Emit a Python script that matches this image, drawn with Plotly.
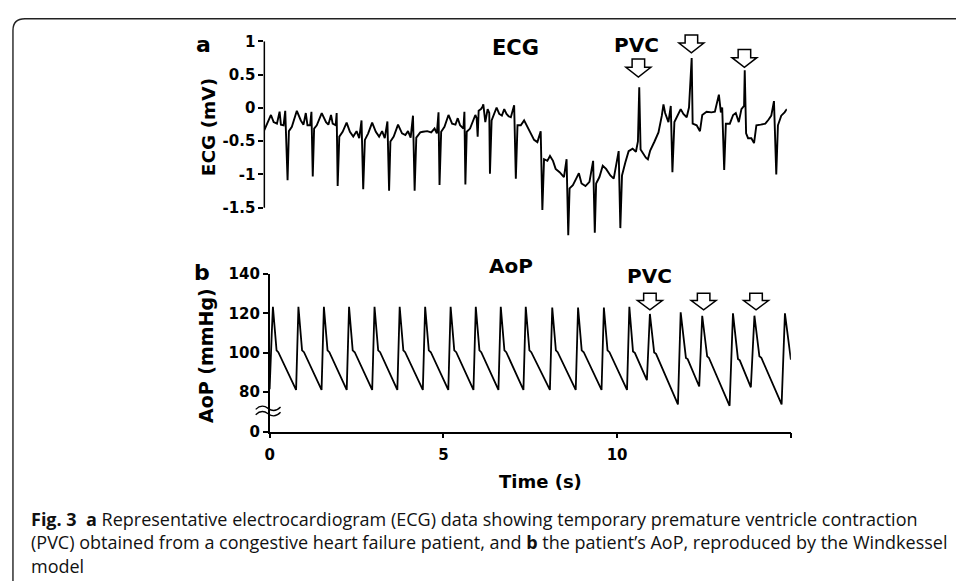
import plotly.graph_objects as go

# ---------------- data ----------------
ecg_time = [0.000, 0.190, 0.267, 0.362, 0.438, 0.476, 0.552, 0.600, 0.667, 0.705, 0.790, 0.933, 1.048, 1.124,
            1.190, 1.238, 1.314, 1.352, 1.390, 1.429, 1.505, 1.648, 1.771, 1.838, 1.914, 1.962, 2.048, 2.076,
            2.105, 2.152, 2.248, 2.362, 2.457, 2.552, 2.648, 2.724, 2.790, 2.838, 2.886, 2.981, 3.095, 3.200,
            3.295, 3.381, 3.457, 3.533, 3.581, 3.619, 3.714, 3.838, 3.952, 4.048, 4.124, 4.200, 4.267, 4.314,
            4.362, 4.476, 4.552, 4.676, 4.790, 4.886, 4.952, 5.000, 5.029, 5.076, 5.171, 5.286, 5.390, 5.486,
            5.552, 5.619, 5.714, 5.743, 5.771, 5.810, 5.905, 6.000, 6.057, 6.095, 6.124, 6.152, 6.219, 6.267,
            6.286, 6.343, 6.410, 6.457, 6.476, 6.524, 6.600, 6.667, 6.743, 6.819, 6.886, 6.952, 7.010, 7.076,
            7.171, 7.219, 7.267, 7.362, 7.457, 7.552, 7.648, 7.743, 7.838, 7.933, 7.981, 8.029, 8.124, 8.200,
            8.286, 8.362, 8.476, 8.600, 8.676, 8.724, 8.762, 8.857, 8.952, 9.029, 9.105, 9.219, 9.333, 9.438,
            9.486, 9.524, 9.619, 9.714, 9.810, 9.933, 10.029, 10.171, 10.219, 10.267, 10.362, 10.457, 10.571,
            10.667, 10.724, 10.762, 10.800, 10.857, 10.952, 11.010, 11.076, 11.200, 11.314, 11.410, 11.457,
            11.505, 11.600, 11.667, 11.714, 11.771, 11.867, 11.952, 12.029, 12.124, 12.190, 12.267, 12.295,
            12.410, 12.505, 12.571, 12.695, 12.838, 12.933, 13.048, 13.105, 13.143, 13.200, 13.248, 13.362,
            13.457, 13.533, 13.619, 13.695, 13.771, 13.790, 13.829, 13.886, 13.981, 14.057, 14.124, 14.248,
            14.381, 14.476, 14.552, 14.629, 14.695, 14.743, 14.838, 14.933, 15.000]
ecg_mv = [-0.335, -0.107, -0.214, -0.238, -0.058, -0.252, -0.262, -0.044, -1.087, -0.350, -0.286, -0.044, -0.189,
          -0.252, -0.078, -0.262, -0.262, -0.058, -1.029, -0.311, -0.262, -0.078, -0.214, -0.252, -0.107, -0.238,
          -0.262, -0.078, -1.175, -0.432, -0.359, -0.223, -0.359, -0.432, -0.350, -0.456, -0.189, -1.223, -0.481,
          -0.383, -0.223, -0.359, -0.432, -0.350, -0.456, -0.204, -1.243, -0.505, -0.432, -0.252, -0.383, -0.408,
          -0.350, -0.447, -0.117, -1.243, -0.447, -0.369, -0.359, -0.350, -0.369, -0.311, -0.383, -0.068, -1.160,
          -0.359, -0.286, -0.107, -0.238, -0.252, -0.155, -0.262, -0.311, -0.058, -1.150, -0.359, -0.311, -0.189,
          -0.107, -0.155, -0.432, -0.044, -0.019, 0.019, 0.053, -0.214, -0.019, -0.078, -0.990, -0.189, -0.092,
          0.005, -0.092, -0.117, -0.019, -0.092, -0.126, -0.141, 0.039, -1.063, -0.262, -0.262, -0.189, -0.286,
          -0.383, -0.481, -0.515, -0.350, -1.534, -0.772, -0.796, -0.723, -0.796, -0.917, -0.966, -1.039, -0.772,
          -1.913, -1.209, -1.160, -1.063, -0.981, -1.136, -1.175, -1.112, -0.796, -1.874, -1.136, -1.039, -0.869,
          -0.917, -1.015, -1.063, -0.650, -1.806, -1.015, -0.820, -0.650, -0.612, -0.660, -0.505, 0.311, -0.626,
          -0.675, -0.748, -0.772, -0.641, -0.505, -0.369, -0.117, 0.053, -0.078, -0.214, 0.029, -0.966, -0.214,
          -0.117, -0.019, -0.092, -0.141, 0.005, 0.748, -0.238, -0.262, -0.350, -0.107, -0.058, -0.068, -0.058,
          0.199, -0.068, 0.005, -0.932, -0.238, -0.238, -0.107, -0.078, -0.214, -0.019, 0.029, 0.563, -0.383,
          -0.456, -0.456, -0.529, -0.262, -0.252, -0.238, -0.175, -0.117, 0.102, -1.000, -0.262, -0.117, -0.068,
          -0.019]

aop_time = [0.000, 0.040, 0.060, 0.095, 0.200, 0.250,
            0.762, 0.829, 0.934, 0.990,
            1.495, 1.562, 1.667, 1.720,
            2.219, 2.286, 2.391, 2.450,
            2.952, 3.019, 3.124, 3.180,
            3.676, 3.743, 3.848, 3.900,
            4.409, 4.476, 4.581, 4.640,
            5.142, 5.209, 5.314, 5.370,
            5.866, 5.933, 6.038, 6.090,
            6.585, 6.652, 6.757, 6.810,
            7.304, 7.371, 7.476, 7.530,
            8.066, 8.133, 8.238, 8.290,
            8.809, 8.876, 8.981, 9.040,
            9.552, 9.619, 9.724, 9.780,
            10.285, 10.352, 10.457, 10.510,
            10.857, 10.943, 11.066, 11.120,
            11.750, 11.829, 11.980, 12.030,
            12.363, 12.449, 12.591, 12.640,
            13.237, 13.334, 13.477, 13.530,
            13.849, 13.951, 14.094, 14.150,
            14.734, 14.829, 15.000]
aop_mmhg = [81.5, 108.0, 109.0, 123.3, 101.2, 100.3,
            81.2, 123.3, 101.2, 100.3,
            81.2, 123.3, 101.2, 100.3,
            81.2, 123.3, 101.2, 100.3,
            81.2, 123.3, 101.2, 100.3,
            81.2, 123.3, 101.2, 100.3,
            81.2, 123.3, 101.2, 100.3,
            81.2, 123.3, 101.2, 100.3,
            81.2, 123.3, 101.2, 100.3,
            81.2, 123.3, 101.2, 100.3,
            81.2, 123.3, 101.2, 100.3,
            81.2, 123.0, 101.2, 100.3,
            81.2, 123.0, 101.2, 100.3,
            81.2, 123.0, 101.2, 100.3,
            81.2, 123.3, 100.7, 100.0,
            86.1, 119.7, 100.2, 99.5,
            73.8, 120.5, 97.4, 96.8,
            82.9, 118.8, 98.2, 97.5,
            73.1, 120.0, 96.9, 96.2,
            82.5, 118.8, 98.2, 97.5,
            73.8, 120.0, 96.5]

ecg_ticks = [-1.5, -1, -0.5, 0, 0.5, 1]
ecg_ticktext = ["-1.5", "-1", "-0.5", "0", "0.5", "1"]
aop_ticks = [60, 80, 100, 120, 140]
aop_ticktext = ["0", "80", "100", "120", "140"]   # broken axis: 0 drawn where 60 would be
time_ticks = [0, 5, 10, 15]
time_ticktext = ["0", "5", "10", ""]

# ---------------- layout helpers (pixels -> paper) ----------------
W, H = 956, 588
def PX(x):
    return x / W
def PY(y):
    return 1 - y / H

AX_FONT = dict(family="DejaVu Sans", size=15, color="black", weight="bold")
BOLD = "DejaVu Sans"

fig = go.Figure()
fig.add_trace(go.Scatter(x=ecg_time, y=ecg_mv, mode="lines", xaxis="x", yaxis="y",
                         line=dict(color="black", width=1.9), hoverinfo="skip"))
fig.add_trace(go.Scatter(x=aop_time, y=aop_mmhg, mode="lines", xaxis="x2", yaxis="y2",
                         line=dict(color="black", width=1.8), hoverinfo="skip"))

ecg_top, ecg_m15 = 33.3, 205.0       # pixel rows of 1 mV and -1.5 mV
ppm = (ecg_m15 - ecg_top) / 2.5
ecg_bottom = ecg_m15 + 0.5 * ppm     # room for spikes below -1.5

common_axis = dict(showgrid=False, zeroline=False, showline=True, linecolor="black", linewidth=1.5,
                   ticks="outside", ticklen=5, tickwidth=1.5, tickcolor="black", tickfont=AX_FONT)

fig.update_layout(
    width=W, height=H, margin=dict(l=0, r=0, t=0, b=0),
    paper_bgcolor="white", plot_bgcolor="white", showlegend=False,
    xaxis=dict(domain=[PX(260.7), PX(786)], range=[0, 15], visible=False, anchor="y"),
    yaxis=dict(domain=[PY(ecg_bottom), PY(ecg_top)], range=[-2.0, 1.0], anchor="x",
               tickvals=ecg_ticks, ticktext=ecg_ticktext, showgrid=False, zeroline=False, showline=False,
               ticks="outside", ticklen=5, tickwidth=1.5, tickcolor="black", tickfont=AX_FONT),
    xaxis2=dict(domain=[PX(266), PX(790)], range=[0, 15], anchor="y2", ticklabelstandoff=4,
                tickvals=time_ticks, ticktext=time_ticktext, **common_axis),
    yaxis2=dict(domain=[PY(436), PY(273.3)], range=[60, 140], anchor="x2",
                tickvals=aop_ticks, ticktext=aop_ticktext, **common_axis),
)

shapes = []
# ECG y-axis line only from -1.5 to 1
shapes.append(dict(type="line", xref="paper", yref="y", x0=PX(260.7), x1=PX(260.7), y0=-1.5, y1=1,
                   line=dict(color="black", width=1.5)))
# frame
shapes.append(dict(type="path", xref="paper", yref="paper",
                   path=f"M {PX(8)},{PY(590)} L {PX(8)},{PY(22)} Q {PX(8)},{PY(10)} {PX(20)},{PY(10)} L {PX(958)},{PY(10)}",
                   line=dict(color="#222222", width=1.4)))
# axis break marks
for yy in (412, 417.5):
    shapes.append(dict(type="path", xref="paper", yref="paper",
                       path=(f"M {PX(252)},{PY(yy+1)} Q {PX(258)},{PY(yy-5)} {PX(264.5)},{PY(yy)} "
                             f"Q {PX(271)},{PY(yy+5)} {PX(277)},{PY(yy-1.5)}"),
                       line=dict(color="black", width=1.3)))

def block_arrow(cx, ty, sh, hh, sw=6.3, hw=12.5):
    p = (f"M {PX(cx-sw)},{PY(ty)} L {PX(cx+sw)},{PY(ty)} L {PX(cx+sw)},{PY(ty+sh)} "
         f"L {PX(cx+hw)},{PY(ty+sh)} L {PX(cx)},{PY(ty+sh+hh)} L {PX(cx-hw)},{PY(ty+sh)} "
         f"L {PX(cx-sw)},{PY(ty+sh)} Z")
    return dict(type="path", xref="paper", yref="paper", path=p, fillcolor="white",
                line=dict(color="black", width=1.5), layer="above")

for cx, ty in [(636.7, 51.7), (690, 26.7), (743.3, 41.7)]:
    shapes.append(block_arrow(cx, ty, 8.5, 10))
for cx, ty in [(648.3, 293.3), (702.3, 293.3), (755, 293.3)]:
    shapes.append(block_arrow(cx, ty, 7.5, 9.5))
fig.update_layout(shapes=shapes)

def txt(x, y, s, size, angle=0, family=BOLD, bold=True, xanchor="center"):
    fig.add_annotation(x=PX(x), y=PY(y), xref="paper", yref="paper", text=s, showarrow=False,
                       textangle=angle, xanchor=xanchor, yanchor="middle",
                       font=dict(family=family, size=size, color="black", weight="bold" if bold else "normal"))

txt(200, 37, "a", 22)
txt(198, 272, "b", 22)
txt(513.5, 40, "ECG", 21)
txt(635, 37, "PVC", 20)
txt(509, 265, "AoP", 20)
txt(648, 275, "PVC", 20)
txt(204, 122, "ECG (mV)", 18.5, angle=-90)
txt(202, 357, "AoP (mmHg)", 19, angle=-90)
txt(538, 487, "Time (s)", 18)

caption = ("<b>Fig. 3</b>\u00a0\u00a0<b>a</b> Representative electrocardiogram (ECG) data showing temporary premature ventricle contraction"
           "<br>(PVC) obtained from a congestive heart failure patient, and <b>b</b> the patient\u2019s AoP, reproduced by the Windkessel"
           "<br>model")
fig.add_annotation(x=PX(24), y=PY(550), xref="paper", yref="paper", text=caption, align="left",
                   showarrow=False, xanchor="left", yanchor="middle",
                   font=dict(family="Open Sans", size=18.0, color="#111111"))

fig.write_html("out.html", config={"displayModeBar": False},
               post_script="document.body.style.margin='0px';document.body.style.overflow='hidden';")
